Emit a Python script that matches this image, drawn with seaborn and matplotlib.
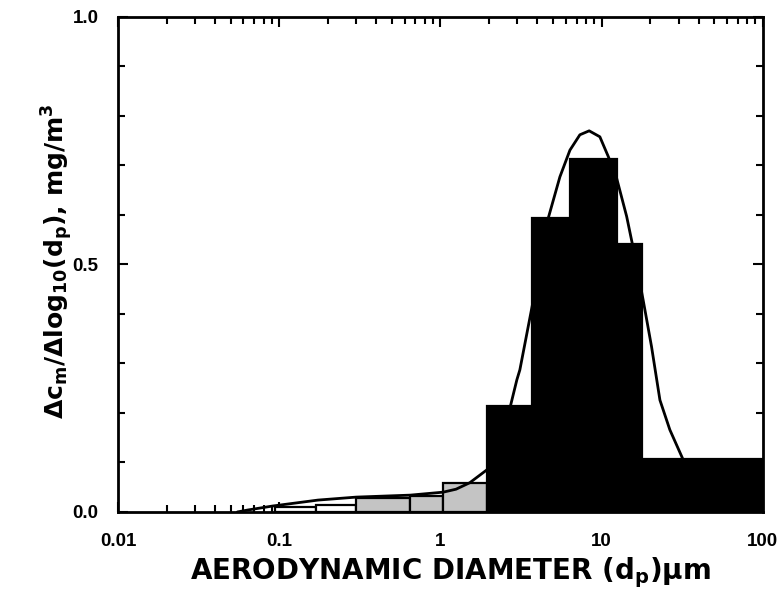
import numpy as np
import matplotlib
matplotlib.use("Agg")
import matplotlib.pyplot as plt
from matplotlib.ticker import LogLocator, MultipleLocator, NullFormatter, FixedLocator, FixedFormatter
import seaborn as sns

# impactor stage boundaries (um) and concentrations
edges = [0.094, 0.17, 0.30, 0.65, 1.04, 1.94, 3.7, 6.35, 12.4, 17.8, 100]
heights = [0.010, 0.014, 0.028, 0.032, 0.059, 0.214, 0.594, 0.713, 0.541, 0.107]
fills = ["white", "white", "#c4c4c4", "#c4c4c4", "#c4c4c4",
         "black", "black", "black", "black", "black"]

# fitted curve
curve_d = [0.055, 0.064, 0.091, 0.174, 0.30, 0.65, 1.04, 1.25, 1.52, 1.94, 2.24, 2.70,
           2.98, 3.11, 3.77, 4.14, 4.66, 5.51, 6.36, 7.33, 8.37, 9.75, 11.0, 12.4,
           14.3, 16.1, 18.1, 20.4, 23.0, 26.5, 32.1, 40.0, 56.5, 91.8]
curve_y = [0.0, 0.004, 0.012, 0.024, 0.030, 0.034, 0.040, 0.046, 0.059, 0.085, 0.111, 0.21,
           0.267, 0.287, 0.428, 0.516, 0.593, 0.677, 0.731, 0.762, 0.770, 0.758, 0.718, 0.674,
           0.597, 0.516, 0.428, 0.334, 0.226, 0.166, 0.105, 0.062, 0.024, 0.008]

sns.set_theme(style="ticks")
plt.rcParams["font.family"] = ["Liberation Sans", "DejaVu Sans"]
plt.rcParams["font.weight"] = "bold"
plt.rcParams["mathtext.fontset"] = "custom"
plt.rcParams["mathtext.rm"] = "DejaVu Sans:bold"
plt.rcParams["mathtext.it"] = "DejaVu Sans:bold"
plt.rcParams["mathtext.bf"] = "DejaVu Sans:bold"
plt.rcParams["mathtext.default"] = "rm"
for k in ["text.color", "axes.labelcolor", "xtick.color", "ytick.color", "axes.edgecolor"]:
    plt.rcParams[k] = "black"

fig = plt.figure(figsize=(7.84, 5.96), dpi=100)
ax = fig.add_axes([0.1505, 0.141, 0.8225, 0.8305])
ax.set_xscale("log")

lefts = np.array(edges[:-1])
widths = np.array(edges[1:]) - lefts
ax.bar(lefts, heights, width=widths, align="edge", color=fills,
       edgecolor="black", linewidth=1.6, zorder=2)

sns.lineplot(x=curve_d, y=curve_y, ax=ax, color="black", linewidth=2, zorder=3,
             sort=False, estimator=None)

ax.set_xlim(0.01, 100)
ax.set_ylim(0, 1.0)

ax.xaxis.set_major_locator(FixedLocator([0.01, 0.1, 1, 10, 100]))
ax.xaxis.set_major_formatter(FixedFormatter(["0.01", "0.1", "1", "10", "100"]))
ax.xaxis.set_minor_locator(LogLocator(base=10, subs=np.arange(2, 10)))
ax.xaxis.set_minor_formatter(NullFormatter())
ax.yaxis.set_major_locator(FixedLocator([0, 0.5, 1.0]))
ax.yaxis.set_major_formatter(FixedFormatter(["0.0", "0.5", "1.0"]))
ax.yaxis.set_minor_locator(MultipleLocator(0.1))

ax.tick_params(which="both", direction="in", top=True, right=True, width=1.5, labelsize=13.5)
ax.tick_params(which="major", length=7)
ax.tick_params(which="minor", length=5)
ax.tick_params(axis="x", pad=15)
ax.tick_params(axis="y", pad=14)
for lab in ax.get_xticklabels() + ax.get_yticklabels():
    lab.set_fontweight("bold")

for s in ax.spines.values():
    s.set_linewidth(2)
    s.set_color("black")

ax.set_xlabel(r"AERODYNAMIC DIAMETER (d$_p$)$\mu$m", fontsize=20, fontweight="bold",
              family="DejaVu Sans")
ax.set_ylabel(r"$\Delta$c$_m$/$\Delta$log$_{10}$(d$_p$), mg/m$^3$", fontsize=18,
              fontweight="bold", family="DejaVu Sans")
ax.xaxis.set_label_coords(0.515, -0.088)
ax.yaxis.set_label_coords(-0.067, 0.507)

fig.savefig("out.png", dpi=100, facecolor="white")
